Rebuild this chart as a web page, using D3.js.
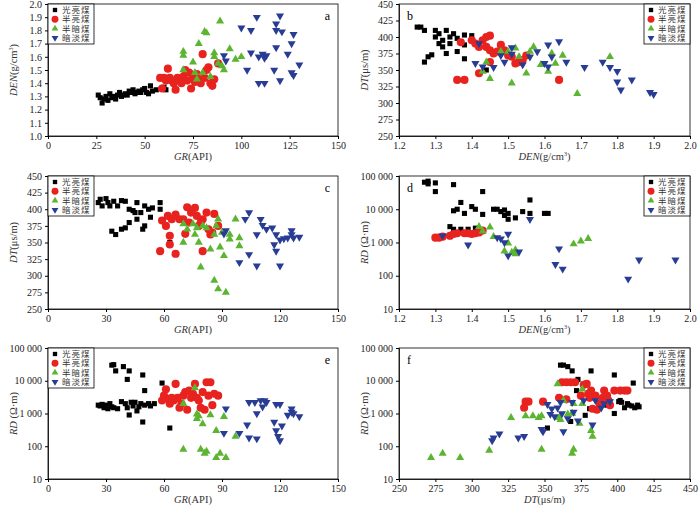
<!DOCTYPE html>
<html lang="en">
<head>
<meta charset="UTF-8">
<script src="https://cdn.jsdelivr.net/npm/d3@7"></script>
<style>
  body { margin: 0; background: #fff; }
  text { font-family: "Liberation Serif", "DejaVu Serif", serif; }
  text.leg { font-family: "Noto Sans CJK SC", sans-serif; font-size: 8.5px; }
</style>
</head>
<body>
<svg id="fig" width="700" height="507"></svg>
<script>
// series names
var seriesNames = ["光亮煤", "半亮煤", "半暗煤", "暗淡煤"];

// panel a: GR vs DEN
var aBlack = [[26,1.31],[27,1.29],[28,1.25],[29,1.28],[30,1.30],[31,1.27],[32,1.32],[33,1.29],[34,1.30],[35,1.28],[36,1.31],[37,1.33],[38,1.30],[39,1.31],[40,1.32],[41,1.31],[42,1.34],[43,1.33],[44,1.35],[45,1.32],[46,1.33],[47,1.34],[48,1.33],[49,1.35],[50,1.36],[51,1.33],[52,1.32],[53,1.38],[54,1.34],[56,1.35],[60,1.37],[61,1.35]];
var aRed = [[58,1.44],[59,1.36],[60,1.44],[61,1.42],[62,1.51],[63,1.44],[64,1.42],[65,1.40],[66,1.35],[67,1.44],[68,1.42],[69,1.40],[70,1.45],[71,1.50],[72,1.42],[73,1.48],[74,1.36],[75,1.44],[76,1.41],[77,1.47],[78,1.43],[79,1.40],[80,1.62],[81,1.44],[82,1.50],[83,1.52],[84,1.40],[85,1.38],[86,1.43],[88,1.55]];
var aGreen = [[70,1.64],[70,1.61],[70,1.50],[75,1.56],[76,1.48],[77,1.43],[78,1.70],[80,1.48],[81,1.79],[82,1.78],[84,1.45],[86,1.63],[86,1.60],[88,1.55],[89,1.87],[90,1.53],[91,1.50],[94,1.66],[97,1.58],[100,1.60]];
var aBlue = [[91,1.61],[92,1.57],[100,1.82],[103,1.50],[105,1.80],[105,1.63],[108,1.90],[109,1.60],[109,1.40],[111,1.62],[112,1.40],[112,1.59],[113,1.61],[117,1.50],[118,1.85],[118,1.80],[118,1.67],[120,1.91],[120,1.42],[121,1.79],[124,1.62],[126,1.70],[126,1.48],[127,1.77],[127,1.46],[130,1.54]];

// panel b: DEN vs DT
var bBlack = [[1.25,415],[1.26,415],[1.27,410],[1.27,362],[1.28,370],[1.29,373],[1.30,410],[1.30,400],[1.31,390],[1.31,405],[1.32,395],[1.32,385],[1.33,410],[1.33,375],[1.34,390],[1.34,400],[1.35,405],[1.36,378],[1.36,398],[1.38,403],[1.38,367],[1.38,388],[1.44,350],[1.40,402]];
var bRed = [[1.36,335],[1.38,335],[1.37,392],[1.40,395],[1.41,390],[1.42,345],[1.42,385],[1.43,395],[1.44,400],[1.44,385],[1.45,402],[1.45,380],[1.46,375],[1.47,378],[1.48,388],[1.49,380],[1.50,372],[1.51,370],[1.52,360],[1.53,362],[1.54,365],[1.55,372],[1.64,335],[1.45,362]];
var bGreen = [[1.43,348],[1.44,362],[1.45,337],[1.48,378],[1.50,378],[1.51,330],[1.52,383],[1.53,370],[1.55,345],[1.56,378],[1.57,385],[1.59,358],[1.61,348],[1.62,375],[1.63,360],[1.65,372],[1.69,314],[1.78,370]];
var bBlue = [[1.41,360],[1.42,390],[1.43,355],[1.46,354],[1.48,372],[1.49,362],[1.51,384],[1.51,374],[1.54,358],[1.56,370],[1.58,378],[1.60,360],[1.61,388],[1.61,355],[1.62,370],[1.64,393],[1.66,362],[1.71,354],[1.76,362],[1.78,354],[1.80,348],[1.80,332],[1.81,320],[1.84,335],[1.89,316],[1.90,313]];

// panel c: GR vs DT
var cBlack = [[26,410],[27,415],[28,405],[30,416],[31,410],[32,405],[34,412],[36,405],[38,413],[40,412],[42,400],[44,398],[45,395],[46,385],[46,410],[48,395],[50,405],[52,400],[54,402],[58,410],[58,400],[33,367],[35,362],[38,370],[40,372],[42,380],[49,370],[50,375],[53,388],[63,350]];
var cRed = [[58,337],[59,383],[61,375],[62,390],[63,360],[63,347],[64,385],[66,333],[66,392],[68,385],[70,385],[71,363],[72,403],[73,380],[74,395],[76,402],[77,390],[78,375],[79,380],[80,337],[80,385],[82,395],[83,370],[84,362],[85,365],[86,393],[88,375]];
var cGreen = [[70,378],[70,350],[72,370],[75,378],[76,362],[77,372],[78,350],[79,313],[80,375],[82,372],[84,340],[86,293],[86,362],[87,375],[88,385],[88,280],[89,343],[90,365],[91,330],[92,275],[94,362],[94,355],[97,385],[99,357],[99,345]];
var cBlue = [[91,363],[92,368],[99,320],[102,385],[104,395],[104,332],[108,362],[108,315],[110,385],[111,376],[113,370],[116,372],[117,347],[118,337],[118,362],[120,315],[120,354],[122,356],[124,357],[126,368],[126,362],[127,357],[130,358]];

// panel d: DEN vs RD
var dBlack = [[1.27,65000],[1.28,70000],[1.28,58000],[1.30,62000],[1.30,34000],[1.35,55000],[1.43,34000],[1.56,19000],[1.37,16000],[1.35,9000],[1.36,10000],[1.38,7500],[1.40,12000],[1.41,10000],[1.43,7000],[1.46,10000],[1.47,10000],[1.48,8500],[1.49,9500],[1.49,6500],[1.50,7500],[1.50,5000],[1.52,5500],[1.54,8500],[1.56,7500],[1.60,7500],[1.61,7500],[1.34,3000],[1.35,2500],[1.37,2500],[1.39,2500],[1.41,2700],[1.34,1500]];
var dRed = [[1.30,1400],[1.31,1400],[1.32,1500],[1.34,1600],[1.35,1800],[1.36,1900],[1.38,1900],[1.39,1900],[1.40,1800],[1.41,1900],[1.42,2000],[1.43,2300]];
var dGreen = [[1.42,3000],[1.43,2200],[1.45,2900],[1.46,1500],[1.49,550],[1.50,950],[1.51,500],[1.52,600],[1.52,450],[1.68,900],[1.70,1100],[1.72,1300]];
var dBlue = [[1.32,1600],[1.39,850],[1.47,1400],[1.48,1300],[1.49,1000],[1.50,1800],[1.50,400],[1.53,520],[1.56,5000],[1.63,220],[1.64,650],[1.65,160],[1.83,80],[1.86,300],[1.96,300]];

// panel e: GR vs RD
var eBlack = [[26,1800],[27,1700],[28,1900],[29,1500],[30,1800],[31,1400],[32,2000],[33,1600],[34,1500],[36,1400],[38,2300],[40,2000],[41,1500],[42,900],[43,2200],[44,1700],[45,2200],[46,1200],[47,1600],[48,2000],[50,1800],[52,2000],[53,1700],[55,2000],[33,30000],[34,31000],[35,20000],[39,27000],[41,11000],[42,20000],[49,15000],[50,5000],[59,8500],[49,550],[63,360]];
var eRed = [[59,2500],[60,3500],[61,5500],[62,2800],[63,2000],[64,3000],[65,2500],[66,8000],[67,3000],[68,1500],[69,2000],[70,3500],[71,4500],[72,1300],[73,5000],[74,3000],[75,4000],[76,8000],[77,3000],[78,2500],[79,1500],[80,4500],[81,1300],[82,9000],[83,3500],[84,9000],[85,1800],[86,4000],[88,3500]];
var eGreen = [[70,2000],[70,80],[76,6000],[77,950],[77,700],[78,850],[79,80],[80,480],[81,60],[82,70],[84,900],[87,45],[87,300],[89,60],[91,800],[92,45],[97,200]];
var eBlue = [[92,1400],[91,250],[99,250],[103,450],[104,180],[104,2200],[107,2200],[108,1000],[108,170],[110,2500],[111,1600],[112,2500],[113,2200],[117,550],[118,300],[118,1900],[119,200],[120,1900],[120,150],[121,420],[124,900],[126,1100],[126,1400],[127,1000],[130,800]];

// panel f: DT vs RD
var fBlack = [[352,360],[361,30000],[363,30000],[366,27000],[369,20000],[373,11000],[382,20000],[398,15000],[411,8500],[372,5000],[368,570],[378,880],[381,1400],[398,1000],[389,2000],[393,1800],[401,2300],[402,2500],[403,2200],[405,1500],[407,2000],[408,1800],[410,1700],[412,1500],[414,1800],[415,1600]];
var fRed = [[336,1500],[337,2300],[339,2300],[349,2300],[360,3000],[362,9000],[365,9000],[368,9000],[371,9000],[365,2700],[375,3500],[377,7500],[379,8000],[380,4000],[381,3000],[382,5000],[383,1400],[385,3500],[386,1300],[388,2000],[390,3000],[391,5000],[393,3500],[395,1800],[398,5000],[402,5000],[405,5000],[407,5000],[394,2500]];
var fGreen = [[272,45],[280,60],[292,45],[312,75],[327,750],[337,850],[342,850],[346,750],[348,850],[348,80],[359,8000],[360,750],[361,650],[363,2500],[366,950],[369,1000],[369,60],[370,80],[370,2000],[374,500],[376,5500],[376,2000],[382,300],[383,200]];
var fBlue = [[314,150],[315,180],[319,240],[332,180],[336,200],[348,330],[349,280],[352,1900],[354,950],[355,1400],[357,800],[359,1500],[361,2200],[362,1000],[363,280],[366,700],[369,2200],[370,1100],[373,600],[377,2500],[383,450],[385,2500],[389,1500],[391,2000],[395,2300]];

// tick values
var grTicksA = [0,25,50,75,100,125,150];
var grTicksC = [0,30,60,90,120,150];
var denTicks = [1.2,1.3,1.4,1.5,1.6,1.7,1.8,1.9,2.0];
var denYTicks = [1.0,1.1,1.2,1.3,1.4,1.5,1.6,1.7,1.8,1.9,2.0];
var dtTicks = [250,275,300,325,350,375,400,425,450];
var rdTicks = [10,100,1000,10000,100000];

var colors = ["#000000", "#e8231f", "#5cb531", "#283c94"];

var labGR = [{t:"GR", i:true},{t:"(API)"}];
var labDEN = [{t:"DEN", i:true},{t:"(g/cm"},{t:"3", sup:true},{t:")"}];
var labDT = [{t:"DT", i:true},{t:"(μs/m)"}];
var labRD = [{t:"RD", i:true},{t:" (Ω·m)"}];

var panels = [
  {id:"a", l:48, t:4, w:290, h:132, xd:[0,150], xt:grTicksA, xf:d3.format("d"), yd:[1,2], yt:denYTicks, yf:d3.format(".1f"), xl:labGR, yl:labDEN, data:[aBlack,aRed,aGreen,aBlue], legRight:false},
  {id:"b", l:399, t:4, w:291, h:132, xd:[1.2,2], xt:denTicks, xf:d3.format(".1f"), yd:[250,450], yt:dtTicks, yf:d3.format("d"), xl:labDEN, yl:labDT, data:[bBlack,bRed,bGreen,bBlue], legRight:true},
  {id:"c", l:48, t:176, w:290, h:133, xd:[0,150], xt:grTicksC, xf:d3.format("d"), yd:[250,450], yt:dtTicks, yf:d3.format("d"), xl:labGR, yl:labDT, data:[cBlack,cRed,cGreen,cBlue], legRight:false},
  {id:"d", l:399, t:176, w:291, h:133, xd:[1.2,2], xt:denTicks, xf:d3.format(".1f"), yd:[10,100000], log:true, yt:rdTicks, xl:labDEN, yl:labRD, data:[dBlack,dRed,dGreen,dBlue], legRight:true},
  {id:"e", l:48, t:348, w:290, h:131, xd:[0,150], xt:grTicksC, xf:d3.format("d"), yd:[10,100000], log:true, yt:rdTicks, xl:labGR, yl:labRD, data:[eBlack,eRed,eGreen,eBlue], legRight:false},
  {id:"f", l:399, t:348, w:291, h:131, xd:[250,450], xt:dtTicks, xf:d3.format("d"), yd:[10,100000], log:true, yt:rdTicks, xl:labDT, yl:labRD, data:[fBlack,fRed,fGreen,fBlue], legRight:true}
];

function rdFmt(v) { return d3.format(",")(v).replace(/,/g, " "); }

var symbols = [
  d3.symbol().type(d3.symbolSquare).size(26),
  d3.symbol().type(d3.symbolCircle).size(52),
  d3.symbol().type(d3.symbolTriangle).size(28),
  d3.symbol().type(d3.symbolTriangle).size(28)
];

function addLabel(sel, parts) {
  parts.forEach(function(p, i) {
    var ts = sel.append("tspan").text(p.t);
    if (p.i) ts.attr("font-style", "italic");
    if (p.sup) ts.attr("font-size", "6px").attr("dy", "-4");
    else if (i > 0 && parts[i - 1].sup) ts.attr("dy", "4");
  });
}

var svg = d3.select("#fig");

panels.forEach(function(p) {
  var g = svg.append("g").attr("transform", "translate(" + p.l + "," + p.t + ")");
  var x = d3.scaleLinear().domain(p.xd).range([0, p.w]);
  var y = (p.log ? d3.scaleLog() : d3.scaleLinear()).domain(p.yd).range([p.h, 0]);

  g.append("rect").attr("width", p.w).attr("height", p.h).attr("fill", "none").attr("stroke", "#000").attr("stroke-width", 0.8);

  var xa = g.append("g").attr("transform", "translate(0," + p.h + ")")
    .call(d3.axisBottom(x).tickValues(p.xt).tickFormat(p.xf).tickSize(3));
  var ya = g.append("g")
    .call(d3.axisLeft(y).tickValues(p.yt).tickFormat(p.log ? rdFmt : p.yf).tickSize(3));
  [xa, ya].forEach(function(a) {
    a.select(".domain").attr("stroke-width", 0.8);
    a.selectAll("text").attr("font-size", "10px").attr("fill", "#222");
  });

  // points
  p.data.forEach(function(series, si) {
    g.append("g").selectAll("path").data(series).enter().append("path")
      .attr("d", symbols[si])
      .attr("fill", colors[si])
      .attr("transform", function(d) {
        return "translate(" + x(d[0]) + "," + y(d[1]) + ")" + (si === 3 ? " rotate(180)" : "");
      });
  });

  // axis labels
  var xlab = g.append("text").attr("x", p.w / 2).attr("y", p.h + 24)
    .attr("text-anchor", "middle").attr("font-size", "10.5px").attr("fill", "#333");
  addLabel(xlab, p.xl);
  var ylab = g.append("text").attr("transform", "translate(-31," + (p.h / 2) + ") rotate(-90)")
    .attr("text-anchor", "middle").attr("font-size", "10.5px").attr("fill", "#333");
  addLabel(ylab, p.yl);

  // panel letter
  g.append("text").attr("x", p.legRight ? 8 : p.w - 8).attr("y", 16)
    .attr("text-anchor", p.legRight ? "start" : "end").attr("font-size", "12px").text(p.id);

  // legend
  var lw = 46, lh = 40;
  var lg = g.append("g").attr("transform", "translate(" + (p.legRight ? p.w - lw : 0) + ",0)");
  lg.append("rect").attr("width", lw).attr("height", lh).attr("fill", "#fff").attr("stroke", "#000").attr("stroke-width", 0.8);
  seriesNames.forEach(function(n, i) {
    var cy = 6 + i * 9.3;
    lg.append("path").attr("d", symbols[i]).attr("fill", colors[i])
      .attr("transform", "translate(7," + cy + ") scale(0.85)" + (i === 3 ? " rotate(180)" : ""));
    lg.append("text").attr("class", "leg").attr("x", 14).attr("y", cy + 3)
      .attr("letter-spacing", "1").attr("fill", "#333").text(n);
  });
});
</script>
</body>
</html>
